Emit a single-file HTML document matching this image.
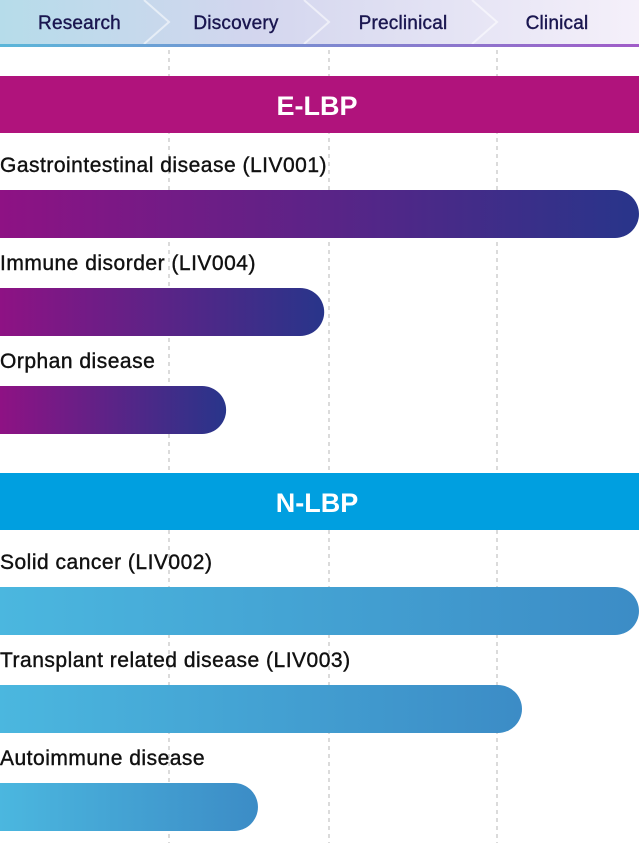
<!DOCTYPE html>
<html><head><meta charset="utf-8"><style>
body{margin:0;width:639px;height:843px;overflow:hidden;background:#fff;font-family:"Liberation Sans",sans-serif;}
svg{display:block}
</style></head><body>
<svg id="c" width="639" height="843">
<defs>
<linearGradient id="hdr" x1="0" x2="1"><stop offset="0" stop-color="#b6dcea"/><stop offset="0.4" stop-color="#d3d6ee"/><stop offset="1" stop-color="#f5f0fa"/></linearGradient>
<linearGradient id="line" x1="0" x2="1"><stop offset="0" stop-color="#5ab6d9"/><stop offset="1" stop-color="#a05cc8"/></linearGradient>
<linearGradient id="gE" x1="0" x2="1"><stop offset="0" stop-color="#8e1284"/><stop offset="1" stop-color="#28358a"/></linearGradient>
<linearGradient id="gN" x1="0" x2="1"><stop offset="0" stop-color="#4bb7df"/><stop offset="1" stop-color="#3c8cc6"/></linearGradient>
</defs>
<g id="grid"></g>
<g id="hdrg"></g>
<g id="bars"></g>
</svg>
<script>
const stages=["Research","Discovery","Preclinical","Clinical"];
const groups=["E-LBP","N-LBP"];
const programs=["Gastrointestinal disease (LIV001)","Immune disorder (LIV004)","Orphan disease","Solid cancer (LIV002)","Transplant related disease (LIV003)","Autoimmune disease"];
const programGroup=[0,0,0,1,1,1];
const progress=[4.0,1.97,1.357,4.0,3.176,1.556];
const NS="http://www.w3.org/2000/svg";
const bounds=[0,169,329,497,639];
const labelDx=[-5,-13,-10,-11];
function x(v){const i=Math.min(Math.floor(v),3);return bounds[i]+(v-i)*(bounds[i+1]-bounds[i]);}
function mk(t,a,p){const e=document.createElementNS(NS,t);for(const k in a)e.setAttribute(k,a[k]);p.appendChild(e);return e;}
const grid=document.getElementById('grid'),hg=document.getElementById('hdrg'),bg=document.getElementById('bars');
for(let i=1;i<4;i++){const l=mk('line',{x1:x(i),x2:x(i),y1:50,y2:843,stroke:'#cfcfcf','stroke-width':1.5,'stroke-dasharray':'4 4'},grid);

}
mk('rect',{x:0,y:0,width:639,height:44,fill:'url(#hdr)'},hg);
for(let i=1;i<4;i++){const p=mk('polyline',{points:`${x(i)-25},0 ${x(i)},22 ${x(i)-25},44`,fill:'none',stroke:'rgba(255,255,255,0.55)','stroke-width':2},hg);

}
mk('rect',{x:0,y:44,width:639,height:3,fill:'url(#line)'},hg);
stages.forEach((s,i)=>{const t=mk('text',{x:(x(i)+x(i+1))/2+labelDx[i],y:29,'text-anchor':'middle','font-size':19,fill:'#1a1650',stroke:'#1a1650','stroke-width':0.4,'letter-spacing':0.2},hg);t.textContent=s;

});
const bandY=[76,473],bandCol=['#b0137c','#009fe0'];
groups.forEach((g,gi)=>{const r=mk('rect',{x:0,y:bandY[gi],width:639,height:57,fill:bandCol[gi]},bg);


const t=mk('text',{x:317,y:bandY[gi]+39,'text-anchor':'middle','font-size':27,'font-weight':'bold',fill:'#fff'},bg);t.textContent=g;

});
programs.forEach((p,i)=>{const gi=programGroup[i],k=i%3;const y0=bandY[gi]+114+k*98;
const t=mk('text',{x:0,y:y0-18,'font-size':21,fill:'#111',stroke:'#111','stroke-width':0.4,'letter-spacing':0.5},bg);t.textContent=p;


const w=x(progress[i]);const r=24;
const b=mk('path',{d:`M0,${y0} H${w-r} A${r},${r} 0 0 1 ${w-r},${y0+48} H0 Z`,fill:gi?'url(#gN)':'url(#gE)'},bg);

});
</script>
</body></html>
